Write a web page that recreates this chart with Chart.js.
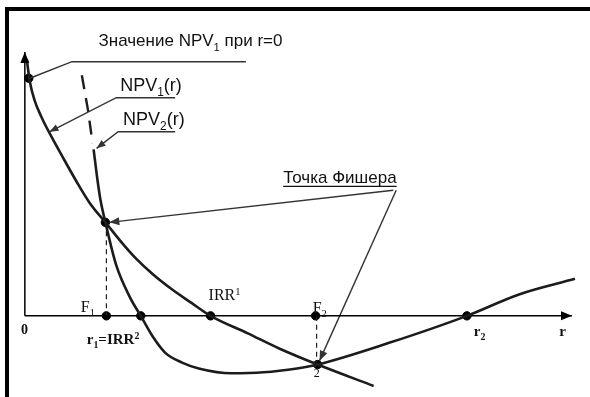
<!DOCTYPE html>
<html>
<head>
<meta charset="utf-8">
<script src="https://cdn.jsdelivr.net/npm/chart.js@4"></script>
<style>
  html, body { margin: 0; padding: 0; background: #fff; overflow: hidden; }
  #wrap { position: relative; width: 590px; height: 397px; }
  #frame { position: absolute; left: 5px; top: 7px; right: 0; bottom: 0;
           border-top: 4px solid #000; border-left: 4px solid #000; pointer-events: none; }
</style>
</head>
<body>
<div id="wrap"><canvas id="c" width="590" height="397"></canvas><div id="frame"></div></div>
<script>
// NPV profiles (r in arbitrary units, NPV in arbitrary units)
const npv1R = [0.2, 0.5, 1.0, 1.7, 2.6, 3.8, 5.2, 6.6, 8.2, 9.8, 11.3, 13.0, 15.0, 17.0, 18.9, 22.7, 26.0, 29.8, 35.5];
const npv1V = [26.3, 24.1, 22.1, 20.4, 18.6, 16.4, 13.9, 11.6, 9.6, 7.6, 5.9, 4.3, 2.7, 1.3, 0, -1.8, -3.4, -5.0, -7.2];

// project 2: dashed upper part, then the solid curve
const npv2DashR = [5.8, 6.4, 6.9];
const npv2DashV = [24.7, 21.3, 17.7];
const npv2R = [7.0, 7.4, 7.7, 8.2, 9.3, 10.7, 11.8, 13.0, 14.3, 16.0, 17.7, 21.0, 24.3, 27.7, 29.8, 37.0, 45.0, 50.3, 56.0];
const npv2V = [17.1, 13.9, 11.9, 9.6, 5.2, 1.9, 0, -2.1, -3.8, -4.8, -5.4, -5.9, -5.8, -5.4, -5.0, -2.8, 0, 2.2, 3.8];

// key points: NPV1(0), F1, IRR2, IRR1, F2, r2, Fisher point 2, Fisher point 1
const dotR = [0.4, 8.3, 11.8, 18.9, 29.6, 45.0, 29.8, 8.2];
const dotV = [24.4, 0, 0, 0, 0, 0, -5.0, 9.6];

// axes ends
const axisRMax = 55.7;
const axisVMax = 27.1;

// callout lines (last point = where it points)
const callouts = [
  { r: [22.5, 4.8, 0.5], v: [26.1, 26.1, 24.4], arrow: null },
  { r: [15.3, 9.3, 2.5], v: [22.4, 22.4, 18.9], arrow: [9, 3.5] },
  { r: [15.3, 9.5, 7.3], v: [18.9, 18.9, 17.2], arrow: [9, 3.5] },
  { r: [37.5, 8.6], v: [12.9, 9.6], arrow: [10, 4] },
  { r: [37.8, 30.0], v: [12.9, -4.6], arrow: [10, 4] }
];

// dashed drop lines from the Fisher points
const dropR = [[8.3, 8.3], [29.7, 29.7]];
const dropV = [[9.6, 0], [0, -5.0]];

const SANS = "'Liberation Sans', Arial, sans-serif";
const SERIF = "'Liberation Serif', 'Times New Roman', serif";

const notes = [
  { runs: [['Значение NPV'], ['1', 'sub'], [' при r=0']], at: [7.5, 27.7], size: 17, family: SANS },
  { runs: [['NPV'], ['1', 'sub'], ['(r)']], at: [9.7, 23.1], size: 18, family: SANS },
  { runs: [['NPV'], ['2', 'sub'], ['(r)']], at: [10.0, 19.6], size: 18, family: SANS },
  { runs: [['Точка Фишера']], at: [26.3, 13.6], size: 17, family: SANS, underline: true },
  { runs: [['IRR'], ['1', 'sup']], at: [18.7, 1.6], size: 16, family: SERIF },
  { runs: [['F'], ['1', 'sub']], at: [5.7, 0.4], size: 16, family: SERIF },
  { runs: [['F'], ['2', 'sub']], at: [29.3, 0.3], size: 16, family: SERIF },
  { runs: [['0']], at: [-0.4, -1.9], size: 14, family: SERIF, bold: true },
  { runs: [['r'], ['1', 'sub'], ['=IRR'], ['2', 'sup']], at: [6.3, -2.9], size: 15, family: SERIF, bold: true },
  { runs: [['2']], at: [29.4, -6.3], size: 12, family: SERIF },
  { runs: [['r'], ['2', 'sub']], at: [45.7, -2.1], size: 15, family: SERIF, bold: true },
  { runs: [['r']], at: [54.4, -2.1], size: 15, family: SERIF, bold: true }
];

function pts(rs, vs) {
  return rs.map((r, i) => ({ x: r, y: vs[i] }));
}

const INK = '#1c1c1c';

const datasets = [
  { data: pts(npv1R, npv1V), borderColor: INK, borderWidth: 2.6, cubicInterpolationMode: 'monotone' },
  { data: pts(npv2DashR, npv2DashV), borderColor: INK, borderWidth: 2.4, borderDash: [14, 9] },
  { data: pts(npv2R, npv2V), borderColor: INK, borderWidth: 2.6, cubicInterpolationMode: 'monotone' },
  { data: pts([0, axisRMax], [0, 0]), borderColor: '#000', borderWidth: 1.5, arrow: [11, 4.5] },
  { data: pts([0, 0], [0, axisVMax]), borderColor: '#000', borderWidth: 1.5, arrow: [11, 4.5] }
];
callouts.forEach(c => datasets.push({ data: pts(c.r, c.v), borderColor: '#333', borderWidth: 1.4, arrow: c.arrow }));
dropR.forEach((r, i) => datasets.push({ data: pts(r, dropV[i]), borderColor: '#222', borderWidth: 1.2, borderDash: [5, 4] }));
datasets.push({ data: pts(dotR, dotV), showLine: false, pointRadius: 4.2, backgroundColor: '#000', borderColor: '#000' });

datasets.forEach(ds => {
  if (ds.showLine === undefined) ds.showLine = true;
  if (ds.pointRadius === undefined) ds.pointRadius = 0;
  ds.fill = false;
});

// arrow heads at the end of marked lines
const arrowPlugin = {
  id: 'arrows',
  afterDatasetsDraw(chart) {
    const ctx = chart.ctx;
    chart.data.datasets.forEach((ds, i) => {
      if (!ds.arrow) return;
      const p = chart.getDatasetMeta(i).data;
      const a = p[p.length - 2], b = p[p.length - 1];
      const ang = Math.atan2(b.y - a.y, b.x - a.x);
      ctx.save();
      ctx.translate(b.x, b.y);
      ctx.rotate(ang);
      ctx.beginPath();
      ctx.moveTo(0, 0);
      ctx.lineTo(-ds.arrow[0], -ds.arrow[1]);
      ctx.lineTo(-ds.arrow[0], ds.arrow[1]);
      ctx.closePath();
      ctx.fillStyle = ds.borderColor;
      ctx.fill();
      ctx.restore();
    });
  }
};

// labels with sub/superscripts
const textPlugin = {
  id: 'texts',
  afterDraw(chart) {
    const { ctx, scales: { x, y } } = chart;
    ctx.save();
    ctx.fillStyle = '#111';
    ctx.textBaseline = 'alphabetic';
    notes.forEach(n => {
      let px = x.getPixelForValue(n.at[0]);
      const py = y.getPixelForValue(n.at[1]);
      const x0 = px;
      n.runs.forEach(([t, kind]) => {
        const s = kind ? n.size * 0.66 : n.size;
        ctx.font = (n.bold ? 'bold ' : '') + s + 'px ' + n.family;
        const dy = kind === 'sub' ? n.size * 0.28 : kind === 'sup' ? -n.size * 0.36 : 0;
        ctx.fillText(t, px, py + dy);
        px += ctx.measureText(t).width;
      });
      if (n.underline) {
        ctx.strokeStyle = '#111';
        ctx.lineWidth = 1.2;
        ctx.beginPath();
        ctx.moveTo(x0, py + 3);
        ctx.lineTo(px, py + 3);
        ctx.stroke();
      }
    });
    ctx.restore();
  }
};

new Chart(document.getElementById('c'), {
  type: 'scatter',
  data: { datasets },
  options: {
    responsive: false,
    animation: false,
    events: [],
    layout: { padding: 0 },
    plugins: { legend: { display: false }, tooltip: { enabled: false } },
    scales: {
      x: { type: 'linear', min: -2, max: 57, display: false },
      y: { type: 'linear', min: -7.8, max: 31.9, display: false }
    }
  },
  plugins: [arrowPlugin, textPlugin]
});
</script>
</body>
</html>
